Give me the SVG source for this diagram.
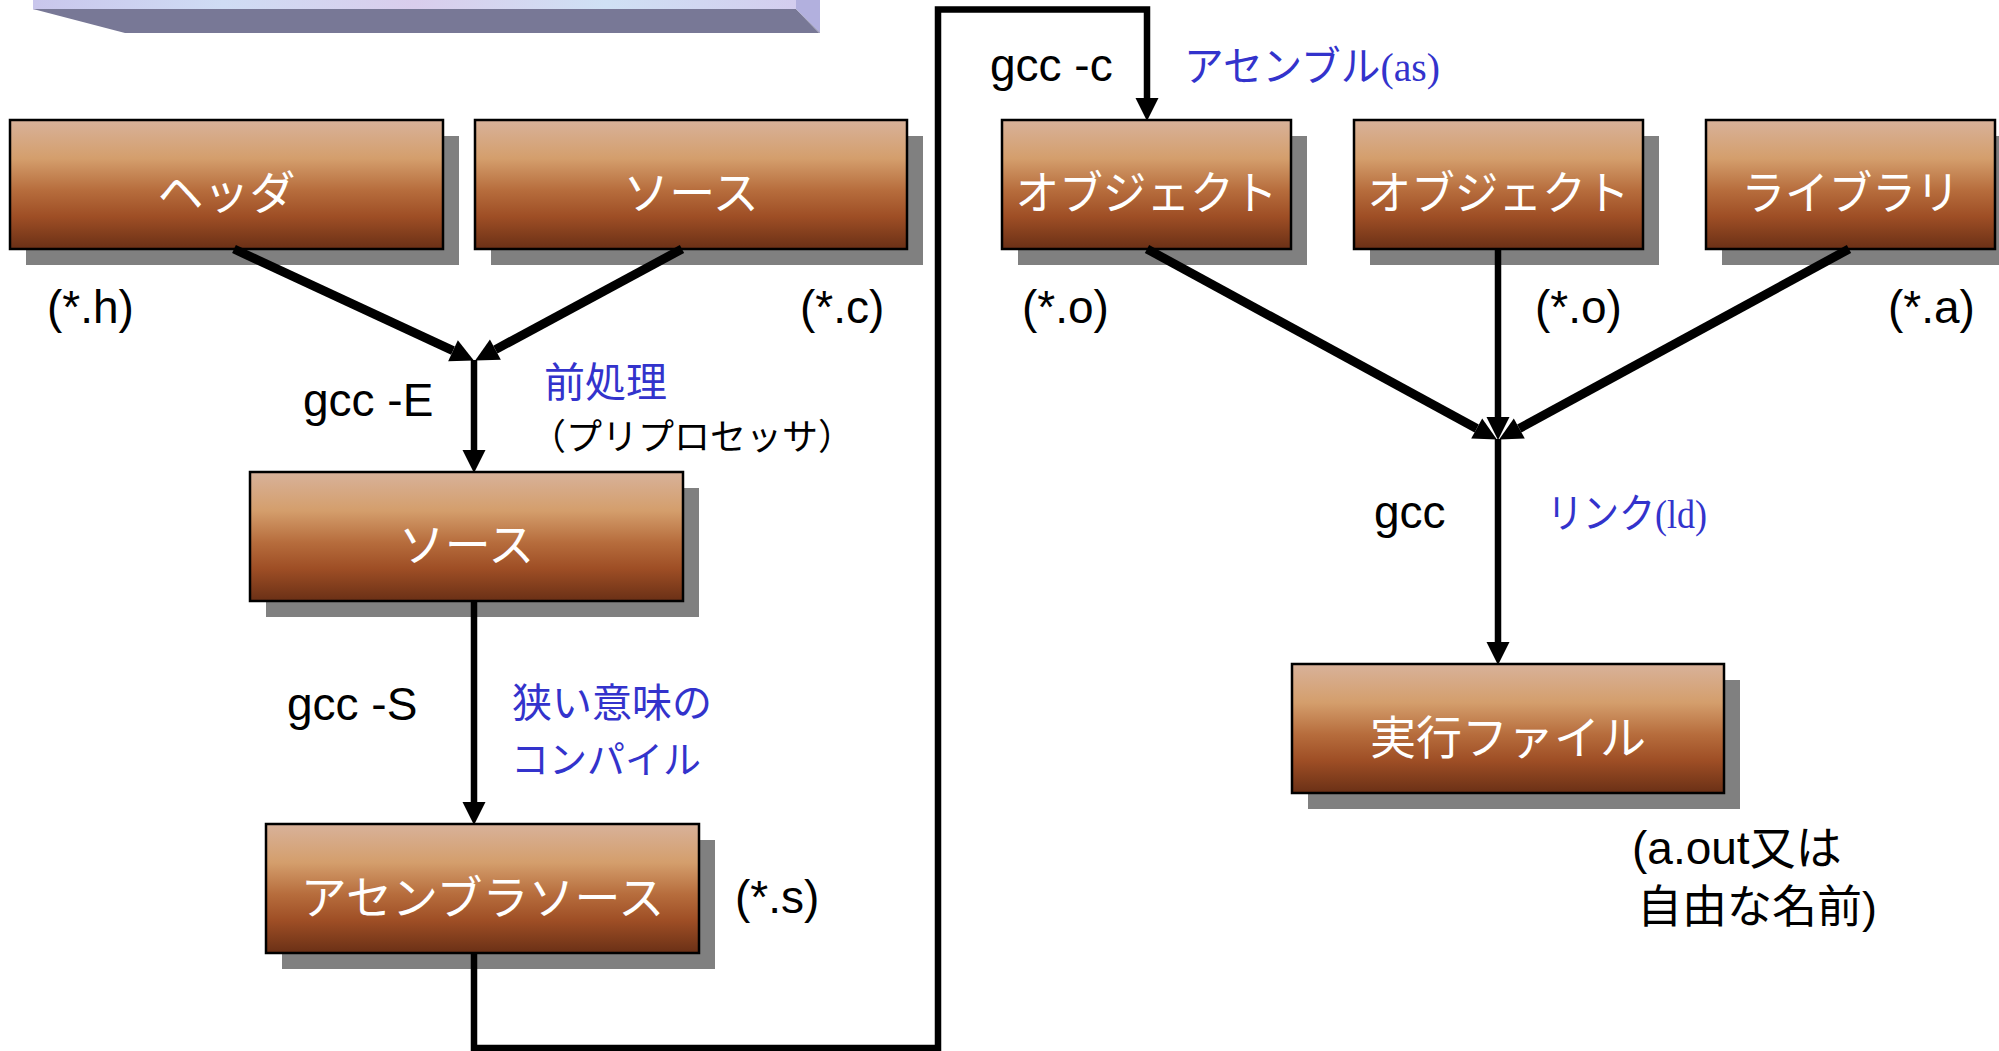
<svg xmlns="http://www.w3.org/2000/svg" width="1999" height="1051" viewBox="0 0 1999 1051">
<defs>
<linearGradient id="boxGrad" x1="0" y1="0" x2="0" y2="1">
<stop offset="0" stop-color="#d8b29a"/>
<stop offset="0.3" stop-color="#d49e6c"/>
<stop offset="0.55" stop-color="#b66c3c"/>
<stop offset="0.75" stop-color="#9e4e25"/>
<stop offset="1" stop-color="#6a3016"/>
</linearGradient>
<linearGradient id="bannerGrad" x1="0" y1="0" x2="1" y2="0">
<stop offset="0" stop-color="#c9c6ec"/>
<stop offset="0.25" stop-color="#cfdcf4"/>
<stop offset="0.5" stop-color="#d9cdec"/>
<stop offset="0.75" stop-color="#cfe0f4"/>
<stop offset="1" stop-color="#d3cdee"/>
</linearGradient>
<marker id="arrow" markerUnits="userSpaceOnUse" markerWidth="24" markerHeight="24" refX="0" refY="11.5" orient="auto" overflow="visible">
<path d="M0,0 L23,11.5 L0,23 z" fill="#000"/>
</marker>
<style>
.shadow{fill:#808080}
.box{fill:url(#boxGrad);stroke:#000;stroke-width:2.5}
.btxt{font-family:"Noto Sans CJK JP",sans-serif;font-size:46px;fill:#fff;text-anchor:middle;dominant-baseline:central}
.lbl{font-family:"Liberation Sans","Noto Sans CJK JP",sans-serif;font-size:46px;fill:#000}
.blue{font-family:"Liberation Serif","Noto Sans CJK JP",serif;font-size:41px;fill:#3333cc}
.jp{font-family:"Noto Sans CJK JP",sans-serif}
.vline{fill:none;stroke:#000;stroke-width:6.5;marker-end:url(#arrow)}
.dline{fill:none;stroke:#000;stroke-width:9;marker-end:url(#arrow)}
</style>
</defs>
<rect width="1999" height="1051" fill="#fff"/>

<g id="banner">
<rect x="33" y="0" width="763" height="9.5" fill="url(#bannerGrad)"/>
<polygon points="33,9 796,9 819,33 125,33" fill="#787896"/>
<polygon points="796,0 820,0 820,33 796,9" fill="#b2b0de"/>
<polygon points="796,9 820,33 819,33" fill="#787896"/>
</g>

<g id="node-header">
<rect class="shadow" x="26" y="136" width="433" height="129"/>
<rect class="box" x="10" y="120" width="433" height="129"/>
<text class="btxt" x="226.5" y="189">ヘッダ</text>
</g>
<g id="node-source">
<rect class="shadow" x="491" y="136" width="432" height="129"/>
<rect class="box" x="475" y="120" width="432" height="129"/>
<text class="btxt" x="691" y="189">ソース</text>
</g>
<g id="node-source-pp">
<rect class="shadow" x="266" y="488" width="433" height="129"/>
<rect class="box" x="250" y="472" width="433" height="129"/>
<text class="btxt" x="466.5" y="541">ソース</text>
</g>
<g id="node-asm-source">
<rect class="shadow" x="282" y="840" width="433" height="129"/>
<rect class="box" x="266" y="824" width="433" height="129"/>
<text class="btxt" x="482.5" y="894">アセンブラソース</text>
</g>
<g id="node-object1">
<rect class="shadow" x="1018" y="136" width="289" height="129"/>
<rect class="box" x="1002" y="120" width="289" height="129"/>
<text class="btxt" x="1146.5" y="189" textLength="262" lengthAdjust="spacingAndGlyphs">オブジェクト</text>
</g>
<g id="node-object2">
<rect class="shadow" x="1370" y="136" width="289" height="129"/>
<rect class="box" x="1354" y="120" width="289" height="129"/>
<text class="btxt" x="1498.5" y="189" textLength="262" lengthAdjust="spacingAndGlyphs">オブジェクト</text>
</g>
<g id="node-library">
<rect class="shadow" x="1722" y="136" width="289" height="129"/>
<rect class="box" x="1706" y="120" width="289" height="129"/>
<text class="btxt" x="1850.5" y="189" textLength="218" lengthAdjust="spacingAndGlyphs">ライブラリ</text>
</g>
<g id="node-executable">
<rect class="shadow" x="1308" y="680" width="432" height="129"/>
<rect class="box" x="1292" y="664" width="432" height="129"/>
<text class="btxt" x="1508" y="734">実行ファイル</text>
</g>

<g id="connectors">
<path class="dline" d="M234,249 L453,350.7"/>
<path class="dline" d="M682,249 L495.4,349.6"/>
<path class="vline" d="M474,360 L474,450"/>
<path class="vline" d="M474,601 L474,802"/>
<path class="vline" d="M474,953 L474,1048 L938,1048 L938,9.5 L1147,9.5 L1147,98" stroke-linejoin="miter"/>
<path class="dline" d="M1147,249 L1476.7,428.5"/>
<path class="vline" d="M1498,249 L1498,417"/>
<path class="dline" d="M1849,249 L1519.3,428.5"/>
<path class="vline" d="M1498,439 L1498,642"/>
</g>

<g id="labels">
<text class="lbl" x="47" y="323">(*.h)</text>
<text class="lbl" x="800" y="323">(*.c)</text>
<text class="lbl" x="303" y="416">gcc -E</text>
<text class="jp"><tspan x="544" y="397" font-size="41" fill="#3333cc">前処理</tspan><tspan x="530" y="450" font-size="36" fill="#000">（プリプロセッサ）</tspan></text>
<text class="lbl" x="287" y="720">gcc -S</text>
<text class="blue jp"><tspan x="512" y="717" font-size="40">狭い意味の</tspan><tspan x="511" y="773" font-size="38">コンパイル</tspan></text>
<text class="lbl" x="735" y="913">(*.s)</text>
<text class="lbl" x="990" y="81">gcc -c</text>
<text class="blue" x="1184" y="81" textLength="256" lengthAdjust="spacingAndGlyphs">アセンブル(as)</text>
<text class="lbl" x="1022" y="323">(*.o)</text>
<text class="lbl" x="1535" y="323">(*.o)</text>
<text class="lbl" x="1888" y="323">(*.a)</text>
<text class="lbl" x="1374" y="528">gcc</text>
<text class="blue" x="1547" y="528" textLength="160" lengthAdjust="spacingAndGlyphs">リンク(ld)</text>
<text class="lbl"><tspan x="1632" y="864">(a.out又は</tspan><tspan x="1637" y="923" font-size="45">自由な名前)</tspan></text>
</g>
</svg>
